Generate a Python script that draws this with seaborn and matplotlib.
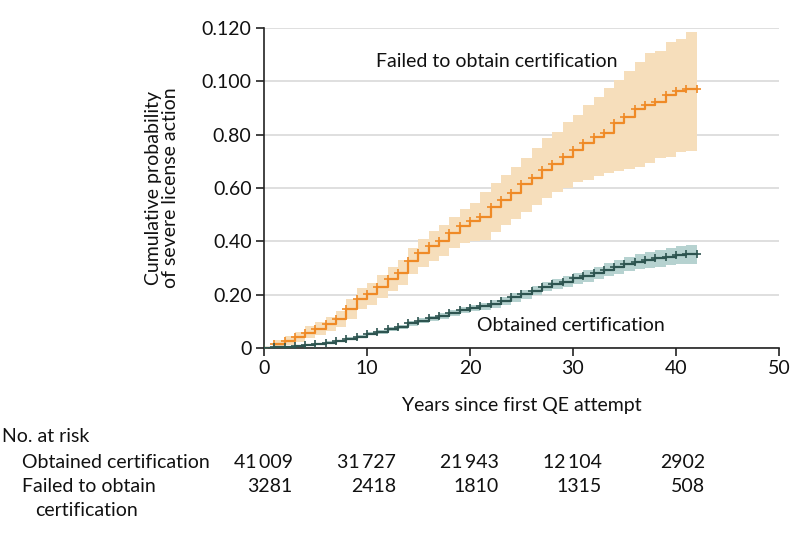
import matplotlib
matplotlib.use("Agg")
import matplotlib.pyplot as plt
import numpy as np
import pandas as pd
import seaborn as sns

# ---- data ----
years = list(range(0, 43))

failed_est = [0.0, 0.0014, 0.0026, 0.0040, 0.0057, 0.0072, 0.0089, 0.0108, 0.0145, 0.0185,
              0.0202, 0.0230, 0.0258, 0.0283, 0.0326, 0.0357, 0.0382, 0.0402, 0.0433, 0.0456,
              0.0475, 0.0492, 0.0530, 0.0555, 0.0582, 0.0614, 0.0636, 0.0668, 0.0689, 0.0717,
              0.0743, 0.0770, 0.0792, 0.0808, 0.0843, 0.0867, 0.0895, 0.0911, 0.0924, 0.0949,
              0.0964, 0.0970, 0.0970]
failed_hi = [0.0, 0.0030, 0.0045, 0.0060, 0.0082, 0.0098, 0.0118, 0.0140, 0.0182, 0.0225,
             0.0243, 0.0273, 0.0303, 0.0330, 0.0376, 0.0410, 0.0437, 0.0460, 0.0493, 0.0520,
             0.0542, 0.0586, 0.0619, 0.0649, 0.0680, 0.0711, 0.0749, 0.0786, 0.0811, 0.0849,
             0.0874, 0.0911, 0.0943, 0.0974, 0.1005, 0.1040, 0.1074, 0.1105, 0.1115, 0.1149,
             0.1160, 0.1184, 0.1184]
failed_lo = [0.0, 0.0003, 0.0012, 0.0023, 0.0036, 0.0048, 0.0062, 0.0078, 0.0110, 0.0147,
             0.0162, 0.0188, 0.0213, 0.0236, 0.0277, 0.0305, 0.0328, 0.0345, 0.0374, 0.0394,
             0.0400, 0.0405, 0.0436, 0.0460, 0.0484, 0.0510, 0.0536, 0.0562, 0.0586, 0.0600,
             0.0624, 0.0630, 0.0645, 0.0655, 0.0665, 0.0672, 0.0680, 0.0695, 0.0712, 0.0715,
             0.0736, 0.0740, 0.0755]

obtained_est = [0.0, 0.0002, 0.0005, 0.0007, 0.0011, 0.0015, 0.0020, 0.0026, 0.0035, 0.0042,
                0.0053, 0.0061, 0.0070, 0.0080, 0.0093, 0.0102, 0.0111, 0.0121, 0.0132, 0.0143,
                0.0151, 0.0157, 0.0165, 0.0177, 0.0190, 0.0201, 0.0214, 0.0230, 0.0239, 0.0249,
                0.0261, 0.0270, 0.0280, 0.0293, 0.0303, 0.0314, 0.0324, 0.0330, 0.0336, 0.0342,
                0.0349, 0.0352, 0.0352]
obtained_hi = [0.0, 0.0004, 0.0008, 0.0010, 0.0015, 0.0019, 0.0025, 0.0031, 0.0041, 0.0048,
               0.0059, 0.0068, 0.0077, 0.0088, 0.0102, 0.0111, 0.0121, 0.0132, 0.0144, 0.0155,
               0.0163, 0.0170, 0.0179, 0.0192, 0.0206, 0.0217, 0.0231, 0.0248, 0.0258, 0.0269,
               0.0282, 0.0292, 0.0303, 0.0317, 0.0329, 0.0341, 0.0352, 0.0359, 0.0367, 0.0374,
               0.0383, 0.0388, 0.0390]
obtained_lo = [0.0, 0.0000, 0.0002, 0.0004, 0.0007, 0.0011, 0.0015, 0.0021, 0.0029, 0.0036,
               0.0047, 0.0054, 0.0063, 0.0072, 0.0084, 0.0093, 0.0101, 0.0110, 0.0120, 0.0131,
               0.0139, 0.0144, 0.0151, 0.0162, 0.0174, 0.0185, 0.0197, 0.0212, 0.0220, 0.0229,
               0.0240, 0.0248, 0.0257, 0.0269, 0.0277, 0.0287, 0.0296, 0.0301, 0.0305, 0.0310,
               0.0315, 0.0316, 0.0314]

ytick_vals = [0, 0.02, 0.04, 0.06, 0.08, 0.10, 0.12]
ytick_labels = ["0", "0.20", "0.40", "0.60", "0.80", "0.100", "0.120"]
xtick_vals = [0, 10, 20, 30, 40, 50]

risk_years = [0, 10, 20, 30, 40]
risk_obtained = ["41\u2009009", "31\u2009727", "21\u2009943", "12\u2009104", "2902"]
risk_failed = ["3281", "2418", "1810", "1315", "508"]

# ---- plot ----
sns.set_theme(style="white")
plt.rcParams["font.family"] = ["Lato", "DejaVu Sans"]

fig = plt.figure(figsize=(7.94, 5.38), dpi=100)
ax = fig.add_axes([0.3325, 0.3532, 0.6485, 0.5948])

orange, orange_band = "#EF8A26", "#F6DEBB"
green, green_band = "#2D5450", "#B6D2D0"

ax.fill_between(years, failed_lo, failed_hi, step="post", color=orange_band, lw=0, zorder=1)
ax.fill_between(years, obtained_lo, obtained_hi, step="post", color=green_band, lw=0, zorder=1)

df = pd.DataFrame({
    "year": years * 2,
    "prob": failed_est + obtained_est,
    "group": ["Failed"] * len(years) + ["Obtained"] * len(years),
})
sns.lineplot(data=df, x="year", y="prob", hue="group", palette={"Failed": orange, "Obtained": green},
             drawstyle="steps-post", marker="+", markersize=6, markeredgewidth=1.2,
             linewidth=1.6, legend=False, ax=ax, zorder=3)
# seaborn paints marker edges white; give the + marks the line colour
for ln in ax.lines:
    ln.set_markeredgecolor(ln.get_color())

ax.set_xlim(0, 50)
ax.set_ylim(0, 0.12)
ax.set_yticks(ytick_vals)
ax.set_yticklabels(ytick_labels)
ax.set_xticks(xtick_vals)
ax.tick_params(axis="both", which="major", labelsize=14, length=6, width=1.2,
               direction="out", color="#222222", labelcolor="#111111", pad=3)
ax.tick_params(left=True, bottom=True)
for s in ["top", "right"]:
    ax.spines[s].set_visible(False)
for s in ["left", "bottom"]:
    ax.spines[s].set_color("#222222")
    ax.spines[s].set_linewidth(1.2)
ax.yaxis.grid(True, color="#D9D9D9", linewidth=1.2)
ax.xaxis.grid(False)
ax.set_axisbelow(True)

ax.set_xlabel("Years since first QE attempt", fontsize=14, color="#111111", labelpad=14)
ax.set_ylabel("Cumulative probability\nof severe license action", fontsize=14,
              color="#111111", labelpad=16, linespacing=1.05)

ax.text(22.6, 0.1076, "Failed to obtain certification", fontsize=14, ha="center",
        va="center", color="#111111")
ax.text(29.8, 0.0083, "Obtained certification", fontsize=14, ha="center",
        va="center", color="#111111")

# ---- number at risk table ----
fig.text(2 / 794, 1 - 436 / 538, "No. at risk", fontsize=14, va="center", color="#111111")
fig.text(22 / 794, 1 - 462 / 538, "Obtained certification", fontsize=14, va="center", color="#111111")
fig.text(22 / 794, 1 - 486 / 538, "Failed to obtain", fontsize=14, va="center", color="#111111")
fig.text(35 / 794, 1 - 510 / 538, "certification", fontsize=14, va="center", color="#111111")

trans = matplotlib.transforms.blended_transform_factory(ax.transData, fig.transFigure)
for yr, a, b in zip(risk_years, risk_obtained, risk_failed):
    ax.text(yr + 2.8, 1 - 462 / 538, a, transform=trans, fontsize=14, ha="right",
            va="center", color="#111111", clip_on=False)
    ax.text(yr + 2.8, 1 - 486 / 538, b, transform=trans, fontsize=14, ha="right",
            va="center", color="#111111", clip_on=False)

fig.savefig("out.png", dpi=100)
